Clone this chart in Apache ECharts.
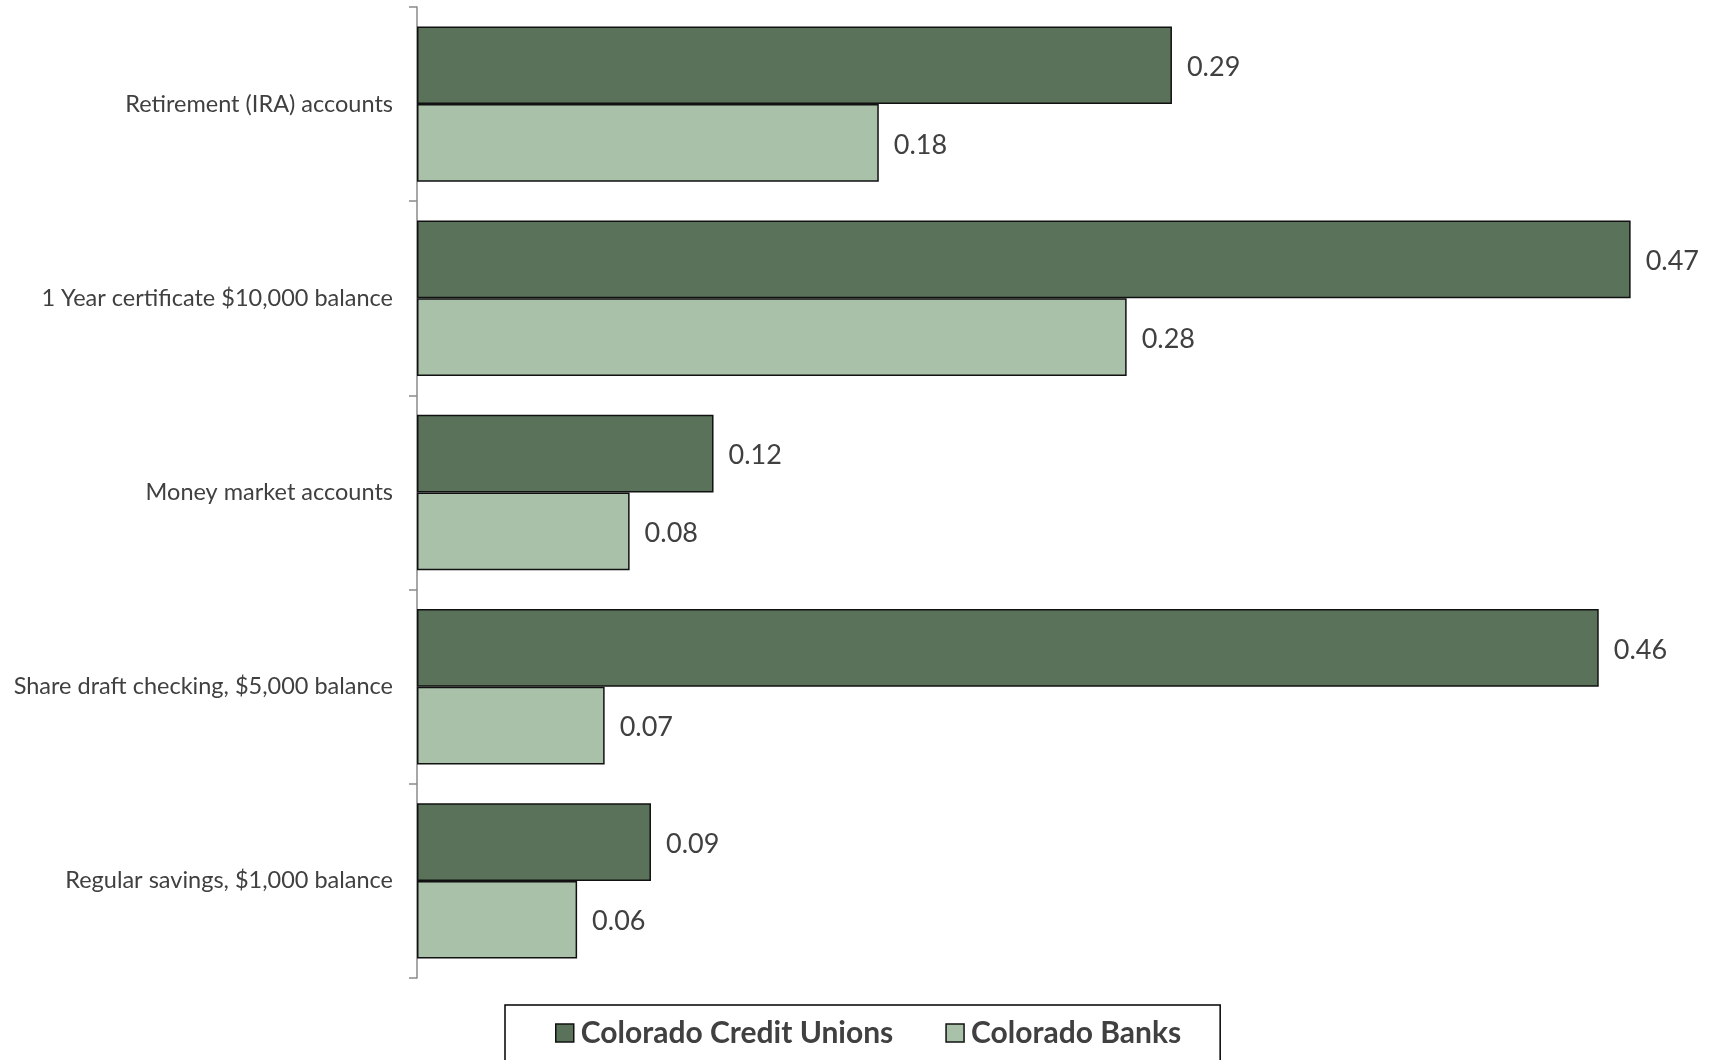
<!DOCTYPE html>
<html>
<head>
<meta charset="utf-8">
<script src="https://cdn.jsdelivr.net/npm/echarts@6/dist/echarts.min.js"></script>
<style>
  html, body { margin: 0; padding: 0; background: #fff; }
  #chart { width: 1711px; height: 1060px; }
</style>
</head>
<body>
<div id="chart"></div>
<script>
const categories = [
  'Retirement (IRA) accounts',
  '1 Year certificate $10,000 balance',
  'Money market accounts',
  'Share draft checking, $5,000 balance',
  'Regular savings, $1,000 balance'
];
const creditUnions = [0.2933, 0.4715, 0.1152, 0.4591, 0.0909];
const banks = [0.1794, 0.2757, 0.0826, 0.0729, 0.0622];
const seriesNames = ['Colorado Credit Unions', 'Colorado Banks'];

const FONT = 'Lato';
const chart = echarts.init(document.getElementById('chart'), null, { renderer: 'canvas' });

const labelCfg = {
  show: true,
  position: 'right',
  distance: 15,
  offset: [0, 2],
  fontFamily: FONT,
  fontSize: 27,
  color: '#404040',
  formatter: p => p.value.toFixed(2)
};

chart.setOption({
  animation: false,
  backgroundColor: '#ffffff',
  grid: { left: 417, right: 7, top: 7, bottom: 82, containLabel: false },
  xAxis: {
    type: 'value', min: 0, max: 0.5,
    axisLine: { show: false }, axisTick: { show: false },
    axisLabel: { show: false }, splitLine: { show: false }
  },
  yAxis: {
    type: 'category',
    inverse: true,
    data: categories,
    axisLine: { show: true, lineStyle: { color: '#8a8a8a', width: 1.5 } },
    axisTick: { show: true, length: 8, lineStyle: { color: '#8a8a8a', width: 1.5 } },
    axisLabel: { margin: 24, fontFamily: FONT, fontSize: 23.5, color: '#404040' }
  },
  legend: {
    data: seriesNames,
    left: 505, top: 1005,
    orient: 'horizontal',
    itemWidth: 18, itemHeight: 18, itemGap: 52,
    padding: [13, 39, 40, 50],
    borderColor: '#000', borderWidth: 1.5,
    icon: 'rect',
    itemStyle: { borderColor: '#111', borderWidth: 1.5 },
    textStyle: { fontFamily: FONT, fontSize: 30, fontWeight: 'bold', color: '#404040', padding: [0, 0, 0, 2] }
  },
  series: [
    {
      name: seriesNames[0], type: 'bar', data: creditUnions,
      barCategoryGap: '20%', barGap: '0%',
      itemStyle: { color: '#5a725a', borderColor: '#111', borderWidth: 1.5 },
      label: labelCfg
    },
    {
      name: seriesNames[1], type: 'bar', data: banks,
      barCategoryGap: '20%', barGap: '0%',
      itemStyle: { color: '#a9c1a8', borderColor: '#111', borderWidth: 1.5 },
      label: labelCfg
    }
  ]
});
</script>
</body>
</html>
